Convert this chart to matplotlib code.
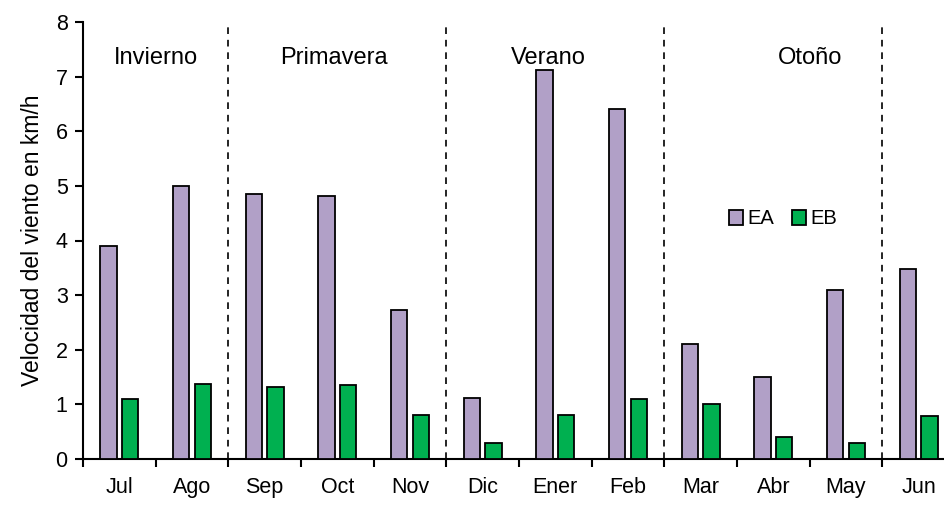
import numpy as np
import matplotlib.pyplot as plt

plt.rcParams['font.family'] = ['Liberation Sans', 'DejaVu Sans']

meses = ['Jul', 'Ago', 'Sep', 'Oct', 'Nov', 'Dic', 'Ener', 'Feb', 'Mar', 'Abr', 'May', 'Jun']
ea = [3.9, 5.0, 4.85, 4.82, 2.73, 1.12, 7.12, 6.4, 2.1, 1.5, 3.1, 3.47]
eb = [1.1, 1.38, 1.32, 1.35, 0.8, 0.3, 0.8, 1.1, 1.0, 0.4, 0.3, 0.78]
estaciones = ['Invierno', 'Primavera', 'Verano', 'Otoño']
est_pos = [0.5, 2.95, 5.9, 9.5]
cortes = [1.5, 4.5, 7.5, 10.5]

fig = plt.figure(figsize=(9.44, 5.05), dpi=100)
ax = fig.add_axes([83/944, 46/505, 872/944, 437/505])

x = np.arange(len(meses))
w = 0.225
ax.bar(x - 0.147, ea, w, color='#B1A0C7', edgecolor='black', linewidth=1.3, label='EA', zorder=3)
ax.bar(x + 0.147, eb, w, color='#00B050', edgecolor='black', linewidth=1.3, label='EB', zorder=3)

# separadores de estaciones
for c in cortes:
    ax.plot([c, c], [0, 8], color='black', linestyle=(0, (4, 3.5)), linewidth=1.2, zorder=2)

for t, p in zip(estaciones, est_pos):
    ax.text(p, 7.35, t, ha='center', va='center', fontsize=17)

ax.set_xlim(-0.5, 11.5)
ax.set_ylim(0, 8)
ax.set_yticks(range(0, 9))
ax.set_xticks(x)
ax.set_xticklabels(meses)
ax.set_xticks(np.arange(-0.5, 12, 1), minor=True)
ax.tick_params(axis='x', which='major', length=0, pad=13, labelsize=15.5)
ax.tick_params(axis='x', which='minor', length=6, width=1.5, direction='out')
ax.tick_params(axis='y', length=6, width=1.5, labelsize=15.5, pad=5)
ax.set_ylabel('Velocidad del viento en km/h', fontsize=16.5, labelpad=8)

for s in ['top', 'right']:
    ax.spines[s].set_visible(False)
for s in ['left', 'bottom']:
    ax.spines[s].set_linewidth(1.5)

ax.legend(loc='center', frameon=False, ncol=2,
          fontsize=14.5, handlelength=0.7, handleheight=0.7, handletextpad=0.2, columnspacing=0.9,
          bbox_to_anchor=((783 - 83) / 872, (459 - 219) / 437))

fig.savefig('out.png', dpi=100)
